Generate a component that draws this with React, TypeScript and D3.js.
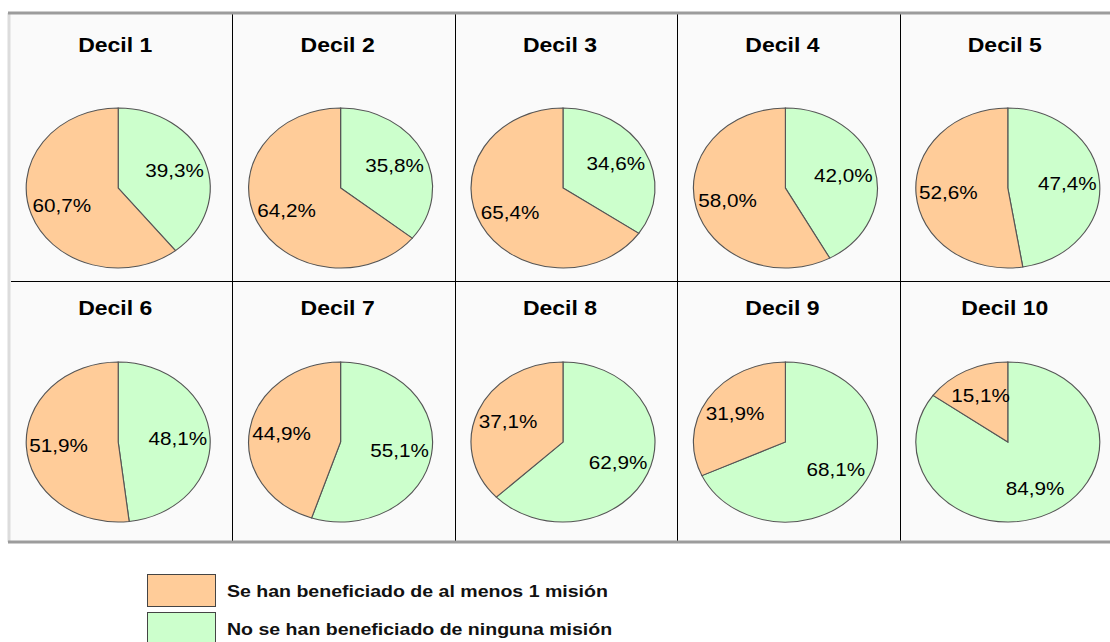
import * as d3 from "d3";

// datos por decil (%)
const DECILES = ["Decil 1", "Decil 2", "Decil 3", "Decil 4", "Decil 5", "Decil 6", "Decil 7", "Decil 8", "Decil 9", "Decil 10"];
const BENEFICIADOS = [60.7, 64.2, 65.4, 58.0, 52.6, 51.9, 44.9, 37.1, 31.9, 15.1];
const NO_BENEFICIADOS = [39.3, 35.8, 34.6, 42.0, 47.4, 48.1, 55.1, 62.9, 68.1, 84.9];
const SERIES = ["Se han beneficiado de al menos 1 misión", "No se han beneficiado de ninguna misión"];
const COLORS = ["#FFCC99", "#CCFFCC"];

const WIDTH = 1110;
const HEIGHT = 642;
const FONT = "'Liberation Sans', Arial, sans-serif";
const FRAME = { left: 9, right: 1124, top: 13, bottom: 542 };
const ROWS = [
  { top: 13, bottom: 281, titleY: 52, pieY: 188 },
  { top: 281, bottom: 541, titleY: 315, pieY: 442 },
];
const RY = 80;
const STRETCH = 1.15; // the original is horizontally stretched

const fmt = (v: number) => v.toFixed(1).replace(".", ",") + "%";

const App = () => {
  const xScale = d3.scaleBand<number>().domain(d3.range(5)).range([10, 1122]);
  const pie = d3.pie<{ v: number; k: number }>().value((d) => d.v).sort(null);
  const arc = d3.arc<d3.PieArcDatum<{ v: number; k: number }>>().innerRadius(0).outerRadius(RY);
  const labelArc = d3.arc<d3.PieArcDatum<{ v: number; k: number }>>().innerRadius(52).outerRadius(52);

  const panels = DECILES.map((name, i) => {
    const col = i % 5;
    const row = ROWS[Math.floor(i / 5)];
    const cx = (xScale(col) ?? 0) + xScale.bandwidth() / 2 - 3;
    // green slice first, clockwise from 12 o'clock
    const arcs = pie([
      { v: NO_BENEFICIADOS[i], k: 1 },
      { v: BENEFICIADOS[i], k: 0 },
    ]);
    return (
      <g key={name}>
        <text
          transform={`translate(${cx - 3},${row.titleY}) scale(${STRETCH},1)`}
          textAnchor="middle"
          fontFamily={FONT}
          fontWeight="bold"
          fontSize={20}
          fill="#000"
        >
          {name}
        </text>
        <g transform={`translate(${cx},${row.pieY}) scale(${STRETCH},1)`}>
          {arcs.map((a) => (
            <path key={a.data.k} d={arc(a) ?? ""} fill={COLORS[a.data.k]} stroke="#555" strokeWidth={1} />
          ))}
        </g>
        {arcs.map((a) => {
          const [lx, ly] = labelArc.centroid(a);
          return (
            <text
              key={a.data.k}
              transform={`translate(${cx + lx * STRETCH},${row.pieY + ly}) scale(${STRETCH},1)`}
              textAnchor="middle"
              dy="0.36em"
              fontFamily={FONT}
              fontSize={18}
              fill="#000"
            >
              {fmt(a.data.v)}
            </text>
          );
        })}
      </g>
    );
  });

  const dividers = d3.range(1, 5).map((c) => {
    const x = Math.round(xScale(c) ?? 0) + 0.5;
    return <line key={c} x1={x} x2={x} y1={FRAME.top + 1} y2={FRAME.bottom - 1} stroke="#000" strokeWidth={1} />;
  });

  return (
    <svg width={WIDTH} height={HEIGHT} style={{ position: "absolute", left: 0, top: 0, background: "#fff" }}>
      <rect x={FRAME.left} y={FRAME.top} width={FRAME.right - FRAME.left} height={FRAME.bottom - FRAME.top} fill="#fafafa" />
      <line x1={FRAME.left} x2={FRAME.left} y1={FRAME.top} y2={FRAME.bottom} stroke="#dcdcdc" strokeWidth={3} />
      <line x1={FRAME.left + 2} x2={WIDTH} y1={ROWS[0].bottom + 0.5} y2={ROWS[0].bottom + 0.5} stroke="#000" strokeWidth={1} />
      {dividers}
      <line x1={FRAME.left - 1} x2={WIDTH} y1={FRAME.top} y2={FRAME.top} stroke="#9c9c9c" strokeWidth={3} />
      <line x1={FRAME.left - 1} x2={WIDTH} y1={FRAME.bottom} y2={FRAME.bottom} stroke="#9c9c9c" strokeWidth={3} />
      {panels}
      {SERIES.map((s, i) => (
        <g key={s} transform={`translate(147,${574 + i * 38})`}>
          <rect x={0.5} y={0.5} width={68} height={32} fill={COLORS[i]} stroke="#444" strokeWidth={1} />
          <text
            transform={`translate(80,23) scale(${STRETCH},1)`}
            fontFamily={FONT}
            fontSize={17}
            fontWeight="bold"
            fill="#111"
          >
            {s}
          </text>
        </g>
      ))}
    </svg>
  );
};

export default App;
